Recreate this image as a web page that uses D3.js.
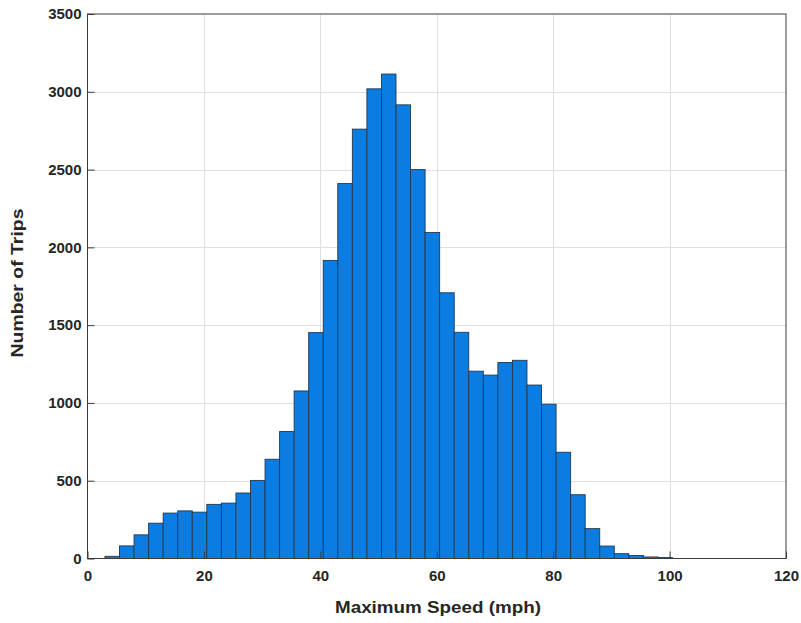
<!DOCTYPE html>
<html>
<head>
<meta charset="utf-8">
<script src="https://cdn.jsdelivr.net/npm/d3@7"></script>
<style>
  html, body { margin: 0; padding: 0; background: #ffffff; }
  svg { display: block; font-family: "Liberation Sans", Arial, Helvetica, sans-serif; }
</style>
</head>
<body>
<svg id="chart" width="801" height="623"></svg>
<script>
// Histogram of trip maximum speeds: bins of 2.5 mph starting at 3 mph
const binStart = 3;
const binWidth = 2.5;
const tripCounts = [
  14, 81, 152, 227, 292, 306, 298, 348, 356, 421,
  502, 638, 816, 1077, 1452, 1916, 2410, 2760, 3019, 3114,
  2916, 2500, 2096, 1708, 1454, 1204, 1179, 1260, 1274, 1115,
  992, 683, 410, 192, 80, 31, 19, 10, 6
];
const xTicks = [0, 20, 40, 60, 80, 100, 120];
const yTicks = [0, 500, 1000, 1500, 2000, 2500, 3000, 3500];
const xLabel = "Maximum Speed (mph)";
const yLabel = "Number of Trips";

const bins = tripCounts.map((count, i) => ({
  x0: binStart + i * binWidth,
  x1: binStart + (i + 1) * binWidth,
  count
}));

const svg = d3.select("#chart");
const plotLeft = 87.5, plotRight = 786, plotTop = 14, plotBottom = 558.5;

const x = d3.scaleLinear().domain([0, 120]).range([plotLeft, plotRight]);
const y = d3.scaleLinear().domain([0, 3500]).range([plotBottom, plotTop]);

const axisColor = "#3a3a3a";
const textColor = "#262626";

// background grid
const grid = svg.append("g").attr("stroke", "#e0e0e0").attr("stroke-width", 1);
grid.selectAll("line.gx").data(xTicks.slice(1, -1)).join("line")
  .attr("x1", d => Math.round(x(d)) + 0.5).attr("x2", d => Math.round(x(d)) + 0.5)
  .attr("y1", plotTop).attr("y2", plotBottom);
grid.selectAll("line.gy").data(yTicks.slice(1, -1)).join("line")
  .attr("x1", plotLeft).attr("x2", plotRight)
  .attr("y1", d => Math.round(y(d)) + 0.5).attr("y2", d => Math.round(y(d)) + 0.5);

// bars
svg.append("g").selectAll("rect").data(bins).join("rect")
  .attr("x", d => x(d.x0))
  .attr("width", d => x(d.x1) - x(d.x0))
  .attr("y", d => y(d.count))
  .attr("height", d => y(0) - y(d.count))
  .attr("fill", "#0a7ce2")
  .attr("stroke", "#24384f")
  .attr("stroke-width", 0.9);

// axes with inward ticks
const xAxis = d3.axisBottom(x).tickValues(xTicks).tickSize(-7).tickPadding(12).tickFormat(d3.format("d"));
const yAxis = d3.axisLeft(y).tickValues(yTicks).tickSize(-7).tickPadding(6).tickFormat(d3.format("d"));

const gx = svg.append("g").attr("transform", `translate(0,${plotBottom})`).call(xAxis);
const gy = svg.append("g").attr("transform", `translate(${plotLeft},0)`).call(yAxis);

[gx, gy].forEach(g => {
  g.select(".domain").remove();
  g.selectAll(".tick line").attr("stroke", axisColor);
  g.selectAll(".tick text")
    .attr("fill", textColor)
    .style("font-family", "'Liberation Sans', Arial, sans-serif")
    .style("font-size", "15px")
    .style("font-weight", "bold");
});

// box around the plot area
svg.append("rect")
  .attr("x", plotLeft).attr("y", plotTop)
  .attr("width", plotRight - plotLeft).attr("height", plotBottom - plotTop)
  .attr("fill", "none").attr("stroke", axisColor).attr("stroke-width", 1);

// axis titles (slightly widened lettering)
svg.append("text")
  .attr("x", 438).attr("y", 613)
  .attr("text-anchor", "middle")
  .attr("fill", textColor)
  .attr("textLength", 206).attr("lengthAdjust", "spacingAndGlyphs")
  .style("font-size", "16.5px").style("font-weight", "bold")
  .text(xLabel);

svg.append("text")
  .attr("transform", `translate(23,283) rotate(-90)`)
  .attr("text-anchor", "middle")
  .attr("fill", textColor)
  .attr("textLength", 149).attr("lengthAdjust", "spacingAndGlyphs")
  .style("font-size", "16.5px").style("font-weight", "bold")
  .text(yLabel);
</script>
</body>
</html>
